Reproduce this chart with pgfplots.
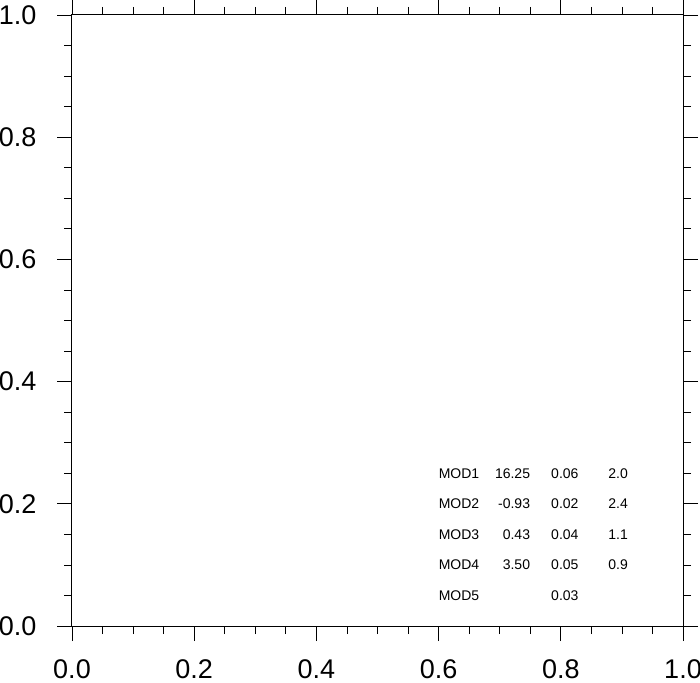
\documentclass[border=0pt]{standalone}
\usepackage{fontspec}
\setmainfont{Liberation Sans}
\usepackage{pgfplots}
\pgfplotsset{compat=1.18}
\begin{document}
\begin{tikzpicture}
\begin{axis}[
 at={(0,0)}, anchor=south west,
 width=611pt, height=611pt, scale only axis,
 xmin=0, xmax=1, ymin=0, ymax=1,
 xtick={0,0.2,0.4,0.6,0.8,1.0}, ytick={0,0.2,0.4,0.6,0.8,1.0},
 minor tick num=3,
 tick align=outside,
 major tick length=15pt, minor tick length=8pt,
 xtick pos=both, ytick pos=both,
 xticklabel pos=lower, yticklabel pos=left,
 /pgf/number format/assume math mode=true,
 /pgf/number format/fixed, /pgf/number format/fixed zerofill, /pgf/number format/precision=1,
 ticklabel style={font=\fontsize{27}{27}\selectfont},
 xticklabel style={yshift=-15pt},
 yticklabel style={xshift=-17pt},
 axis line style={line width=1pt},
 every tick/.style={black, line width=0.8pt},
 clip=false,
]
\begin{scope}[every node/.style={inner sep=0pt, font=\fontsize{14}{14}\selectfont}]
\node[anchor=west] at (axis cs:0.6,0.25) {MOD1};
\node[anchor=west] at (axis cs:0.6,0.20) {MOD2};
\node[anchor=west] at (axis cs:0.6,0.15) {MOD3};
\node[anchor=west] at (axis cs:0.6,0.10) {MOD4};
\node[anchor=west] at (axis cs:0.6,0.05) {MOD5};
\node[anchor=east] at (axis cs:0.75,0.25) {16.25};
\node[anchor=east] at (axis cs:0.75,0.20) {-0.93};
\node[anchor=east] at (axis cs:0.75,0.15) {0.43};
\node[anchor=east] at (axis cs:0.75,0.10) {3.50};
\node[anchor=west] at (axis cs:0.784,0.25) {0.06};
\node[anchor=west] at (axis cs:0.784,0.20) {0.02};
\node[anchor=west] at (axis cs:0.784,0.15) {0.04};
\node[anchor=west] at (axis cs:0.784,0.10) {0.05};
\node[anchor=west] at (axis cs:0.784,0.05) {0.03};
\node[anchor=east] at (axis cs:0.91,0.25) {2.0};
\node[anchor=east] at (axis cs:0.91,0.20) {2.4};
\node[anchor=east] at (axis cs:0.91,0.15) {1.1};
\node[anchor=east] at (axis cs:0.91,0.10) {0.9};
\end{scope}
\end{axis}
\pgfresetboundingbox
\path[use as bounding box] (-72pt,-56.7pt) rectangle (628pt,626pt);
\end{tikzpicture}
\end{document}
